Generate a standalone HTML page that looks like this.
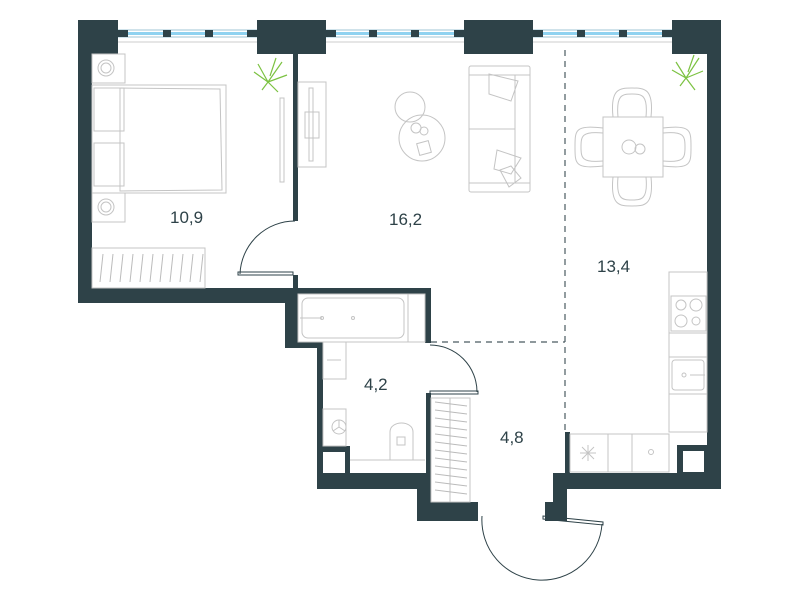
<!DOCTYPE html>
<html><head><meta charset="utf-8"><style>
html,body{margin:0;padding:0;background:#fff;}
svg{display:block}
text{font-family:"Liberation Sans",sans-serif;font-size:17px;fill:#2e4248}
</style></head><body>
<svg width="800" height="600" viewBox="0 0 800 600" xmlns="http://www.w3.org/2000/svg">
<g>
<rect x="118" y="30" width="139" height="7" fill="#fff" stroke="#9fc6d4" stroke-width="1"/>
<rect x="120" y="32" width="135" height="3" fill="#8fd2f0"/>
<rect x="326" y="30" width="138" height="7" fill="#fff" stroke="#9fc6d4" stroke-width="1"/>
<rect x="328" y="32" width="134" height="3" fill="#8fd2f0"/>
<rect x="533" y="30" width="139" height="7" fill="#fff" stroke="#9fc6d4" stroke-width="1"/>
<rect x="535" y="32" width="135" height="3" fill="#8fd2f0"/>
<line x1="118" y1="42" x2="672" y2="42" stroke="#ccc" stroke-width="1"/>
<g fill="#2e4248">
<rect x="118" y="30" width="10" height="7"/><rect x="163" y="30" width="8" height="7"/><rect x="205" y="30" width="8" height="7"/><rect x="247" y="30" width="10" height="7"/>
<rect x="326" y="30" width="10" height="7"/><rect x="369" y="30" width="8" height="7"/><rect x="411" y="30" width="8" height="7"/><rect x="454" y="30" width="10" height="7"/>
<rect x="533" y="30" width="10" height="7"/><rect x="577" y="30" width="8" height="7"/><rect x="619" y="30" width="8" height="7"/><rect x="662" y="30" width="10" height="7"/>
</g>
</g>
<g fill="#2e4248">
<rect x="78" y="20" width="40" height="34"/>
<rect x="78" y="20" width="14" height="283"/>
<rect x="78" y="288" width="220" height="15"/>
<rect x="257" y="20" width="69" height="34"/>
<rect x="464" y="20" width="69" height="34"/>
<rect x="672" y="20" width="49" height="34"/>
<rect x="707" y="20" width="14" height="469"/>
<rect x="293" y="54" width="5" height="167"/>
<rect x="293" y="275" width="5" height="15"/>
<rect x="285" y="288" width="146" height="6"/>
<rect x="285" y="288" width="13" height="60"/>
<rect x="285" y="342" width="38" height="6"/>
<rect x="317" y="342" width="6" height="147"/>
<rect x="425" y="288" width="6" height="55"/>
<rect x="426" y="393" width="5" height="109"/>
<rect x="317" y="473" width="113" height="16"/>
<rect x="317" y="446" width="33" height="43"/>
<rect x="417" y="473" width="13" height="48"/>
<rect x="417" y="502" width="61" height="19"/>
<rect x="553" y="473" width="168" height="16"/>
<rect x="553" y="473" width="14" height="48"/>
<rect x="545" y="502" width="22" height="19"/>
<rect x="565" y="432" width="5" height="45"/>
<rect x="677" y="445" width="44" height="44"/>
</g>
<rect x="323" y="452" width="22" height="21" fill="#fff"/>
<rect x="683" y="451" width="21" height="21" fill="#fff"/>
<g stroke="#4a5a60" stroke-width="1.2" stroke-dasharray="6,5" fill="none">
<line x1="565" y1="50" x2="565" y2="432"/>
<line x1="431" y1="342" x2="565" y2="342"/>
</g>
<g fill="none" stroke="#2e4248" stroke-width="1">
<path d="M295 221 A55 55 0 0 0 240 274"/>
<rect x="238" y="272" width="55" height="3"/>
<path d="M430 345 A47 47 0 0 1 477 392"/>
<rect x="430" y="391" width="48" height="3"/>
<path d="M482 516 A60 60 0 0 0 602 524"/>
<path d="M543 516 L603 522 L603 525 L543 519 Z"/>
</g>
<g fill="none" stroke="#c4c4c4" stroke-width="1">
<rect x="92" y="54" width="33" height="29"/><circle cx="106" cy="68" r="8"/><circle cx="106" cy="68" r="5"/>
<rect x="92" y="193" width="33" height="29"/><circle cx="106" cy="207" r="8"/><circle cx="106" cy="207" r="5"/>
<rect x="92" y="85" width="134" height="108"/>
<rect x="94" y="88" width="30" height="43"/><rect x="94" y="143" width="30" height="43"/>
<path d="M120 88 L220 89 L222 190 L120 191 Z"/>
<rect x="92" y="248" width="113" height="40"/>
<g stroke="#bbb"><line x1="100" y1="282" x2="103" y2="254"/><line x1="110" y1="282" x2="113" y2="254"/><line x1="120" y1="282" x2="123" y2="254"/><line x1="130" y1="282" x2="133" y2="254"/><line x1="140" y1="282" x2="143" y2="254"/><line x1="150" y1="282" x2="153" y2="254"/><line x1="160" y1="282" x2="163" y2="254"/><line x1="170" y1="282" x2="173" y2="254"/><line x1="180" y1="282" x2="183" y2="254"/><line x1="190" y1="282" x2="193" y2="254"/><line x1="200" y1="282" x2="203" y2="254"/></g>
<rect x="280" y="98" width="4" height="84"/>
<rect x="298" y="82" width="28" height="85"/><rect x="309" y="88" width="4" height="73"/><rect x="305" y="112" width="14" height="26"/>
<circle cx="410" cy="107" r="15"/><circle cx="422" cy="138" r="23"/>
<circle cx="416" cy="128" r="5"/><circle cx="424" cy="131" r="4"/>
<rect x="418" y="142" width="12" height="12" transform="rotate(-15 424 148)"/>
<rect x="469" y="66" width="61" height="126" rx="2"/>
<rect x="469" y="75" width="61" height="108"/>
<line x1="469" y1="129" x2="515" y2="129"/><line x1="515" y1="75" x2="515" y2="183"/>
<path d="M489 74 L518 81 L511 101 L489 94 Z"/><path d="M497 150 L521 158 L511 174 L494 169 Z"/><path d="M500 170 L511 166 L521 178 L509 187 Z"/>
<rect x="603" y="117" width="60" height="60"/>
<circle cx="629" cy="147" r="7"/><circle cx="640" cy="149" r="5"/>
<path d="M613 117 C610 88 620 88 632 88 C644 88 654 88 651 117"/>
<path d="M618 117 C616 95 622 94 632 94 C642 94 648 95 646 117"/>
<path d="M613 177 C610 206 620 206 632 206 C644 206 654 206 651 177"/>
<path d="M618 177 C616 199 622 200 632 200 C642 200 648 199 646 177"/>
<path d="M603 128 C575 125 575 130 575 147 C575 164 575 169 603 166"/>
<path d="M603 133 C582 131 581 136 581 147 C581 158 582 163 603 161"/>
<path d="M663 128 C691 125 691 130 691 147 C691 164 691 169 663 166"/>
<path d="M663 133 C684 131 685 136 685 147 C685 158 684 163 663 161"/>
<rect x="669" y="272" width="38" height="160"/>
<rect x="671" y="296" width="35" height="35"/><circle cx="681" cy="305" r="5"/><circle cx="696" cy="305" r="6"/><circle cx="681" cy="321" r="6"/><circle cx="696" cy="321" r="4"/>
<line x1="669" y1="333" x2="707" y2="333"/><line x1="669" y1="357" x2="707" y2="357"/><line x1="669" y1="394" x2="707" y2="394"/>
<rect x="672" y="360" width="32" height="30" rx="3"/><circle cx="684" cy="375" r="2"/><line x1="690" y1="375" x2="705" y2="375"/>
<rect x="570" y="434" width="99" height="38"/><line x1="608" y1="434" x2="608" y2="472"/><line x1="632" y1="434" x2="632" y2="472"/>
<path d="M580 453 L596 453 M588 445 L588 461 M582 447 L594 459 M594 447 L582 459"/>
<circle cx="651" cy="452" r="2.5"/>
<rect x="298" y="294" width="127" height="48"/>
<rect x="302" y="298" width="102" height="40" rx="6"/>
<line x1="300" y1="318" x2="322" y2="318"/><circle cx="322" cy="318" r="1.5"/><circle cx="353" cy="318" r="1.5"/>
<line x1="408" y1="294" x2="408" y2="342"/>
<rect x="323" y="342" width="23" height="37"/><line x1="327" y1="360" x2="341" y2="360"/>
<rect x="323" y="409" width="23" height="37"/><circle cx="339" cy="427" r="7"/>
<path d="M339 427 L339 420 M339 427 L333 431 M339 427 L345 431"/>
<line x1="350" y1="460" x2="425" y2="460"/>
<path d="M390 460 L390 432 C390 420 413 420 413 432 L413 460"/><rect x="397" y="437" width="8" height="8"/>
<rect x="431" y="398" width="39" height="104"/><line x1="450" y1="398" x2="450" y2="502"/>
<g stroke="#bbb"><line x1="435" y1="402" x2="467" y2="406"/><line x1="435" y1="410" x2="467" y2="414"/><line x1="435" y1="418" x2="467" y2="422"/><line x1="435" y1="426" x2="467" y2="430"/><line x1="435" y1="434" x2="467" y2="438"/><line x1="435" y1="442" x2="467" y2="446"/><line x1="435" y1="450" x2="467" y2="454"/><line x1="435" y1="458" x2="467" y2="462"/><line x1="435" y1="466" x2="467" y2="470"/><line x1="435" y1="474" x2="467" y2="478"/><line x1="435" y1="482" x2="467" y2="486"/><line x1="435" y1="490" x2="467" y2="494"/></g>
</g>
<g stroke="#7cc242" stroke-width="1.2" fill="none">
<path d="M268 82 L254 72 M268 82 L258 64 M268 82 L282 62 M268 82 L287 75 M268 82 L278 92 M268 82 L262 90 M270 76 L276 58"/>
<path d="M686 78 L672 70 M686 78 L676 62 M686 78 L699 58 M686 78 L703 71 M686 78 L695 90 M686 78 L680 86 M688 72 L694 55"/>
</g>
<text x="170" y="223">10,9</text>
<text x="389" y="225">16,2</text>
<text x="597" y="272">13,4</text>
<text x="364" y="390">4,2</text>
<text x="500" y="443">4,8</text>
</svg>
</body></html>
